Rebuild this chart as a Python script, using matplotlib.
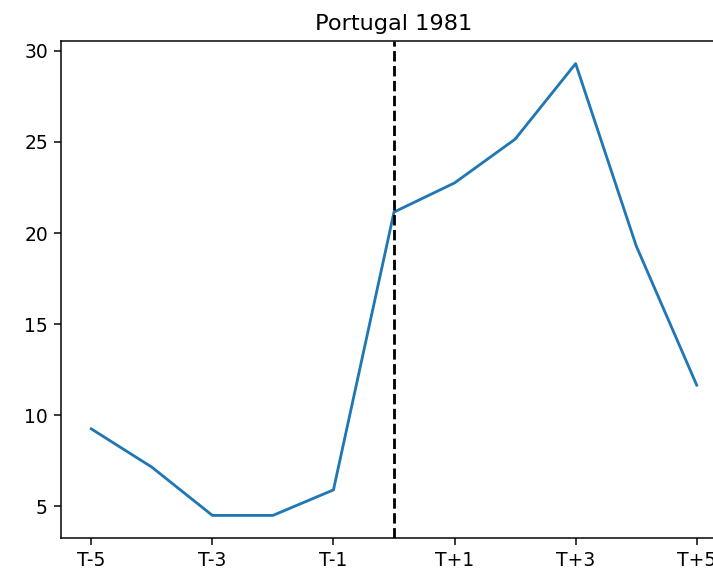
from matplotlib import pyplot as plt

years = [-5, -4, -3, -2, -1, 0, 1, 2, 3, 4, 5]
values = [9.25, 7.15, 4.5, 4.5, 5.9, 21.15, 22.75, 25.15, 29.3, 19.3, 11.65]

tick_pos = [-5, -3, -1, 1, 3, 5]
tick_labels = ['T-5', 'T-3', 'T-1', 'T+1', 'T+3', 'T+5']

# original looks rendered about 1.35x bigger than default
s = 1.35
plt.rcParams['font.size'] = 10 * s
plt.rcParams['axes.titlesize'] = 12 * s
plt.rcParams['axes.linewidth'] = 0.8 * s
plt.rcParams['xtick.major.size'] = 3.5 * s
plt.rcParams['ytick.major.size'] = 3.5 * s
plt.rcParams['xtick.major.width'] = 0.8 * s
plt.rcParams['ytick.major.width'] = 0.8 * s
plt.rcParams['xtick.major.pad'] = 3.5 * s
plt.rcParams['ytick.major.pad'] = 3.5 * s

fig = plt.figure(figsize=(7.13, 5.69), dpi=100)
# axes runs past the right edge, like the cropped original
ax = fig.add_axes([61 / 713, 31 / 569, 666 / 713, 497 / 569])

ax.plot(years, values, color='#1f77b4', linewidth=1.5 * s)
ax.axvline(0, color='black', linestyle='--', linewidth=1.5 * s)

ax.set_xticks(tick_pos)
ax.set_xticklabels(tick_labels)
ax.set_title('Portugal 1981', pad=6 * s)

plt.savefig('out.png', dpi=100)
